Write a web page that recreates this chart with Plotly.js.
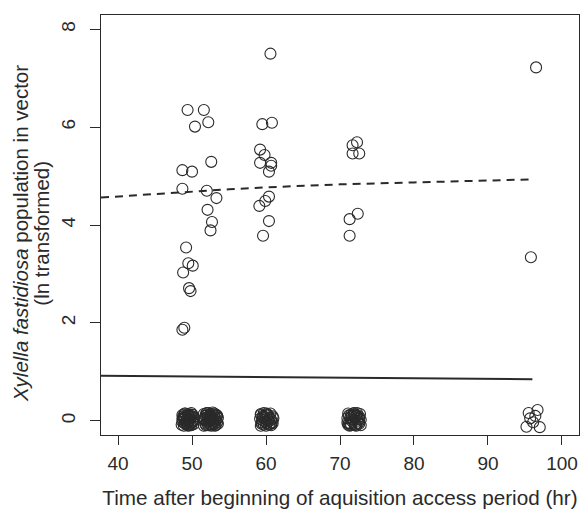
<!DOCTYPE html>
<html>
<head>
<meta charset="utf-8">
<script src="https://cdn.plot.ly/plotly-3.0.1.min.js"></script>
<style>html,body{margin:0;padding:0;background:#fff;}#plot{width:585px;height:512px;}</style>
</head>
<body>
<div id="plot"></div>
<script>
// Infected vectors (above zero)
const posTime = [49.4,51.6,50.4,52.2,60.6,59.5,60.8,59.2,59.8,59.2,60.7,60.7,60.4,48.7,50.0,52.6,48.7,52.0,53.3,52.1,60.4,59.9,59.1,52.7,52.5,60.4,59.6,49.2,49.5,50.1,48.8,49.6,49.8,48.96,48.7,96.5,95.8,71.7,72.3,71.7,72.6,72.4,71.3,71.3];
const posLn   = [6.35,6.35,6.01,6.10,7.50,6.06,6.09,5.54,5.43,5.27,5.27,5.21,5.09,5.12,5.09,5.29,4.74,4.70,4.55,4.31,4.58,4.49,4.39,4.06,3.89,4.08,3.78,3.54,3.22,3.17,3.03,2.71,2.65,1.90,1.86,7.22,3.34,5.63,5.69,5.46,5.46,4.23,4.12,3.78];

// Uninfected vectors (jittered around zero)
const zeroTime = [
  48.7,49.1,49.5,49.9,50.2,48.8,49.3,49.7,50.1,48.6,49.0,49.4,49.8,50.0,48.9,49.2,49.6,50.2,48.7,49.3,49.9,49.0,49.5,50.1,
  48.9,49.2,49.6,50.0,48.7,49.1,49.5,49.8,50.1,48.8,49.4,49.7,49.0,49.3,49.6,49.9,
  51.6,52.0,52.4,52.8,53.2,53.5,51.7,52.1,52.6,53.0,53.4,51.8,52.3,52.7,53.1,51.6,52.2,52.5,52.9,53.3,51.9,52.4,52.8,53.2,51.7,52.0,52.6,53.0,53.5,52.3,
  51.8,52.1,52.5,52.9,53.3,51.6,52.0,52.4,52.7,53.1,53.4,51.9,52.2,52.6,53.0,52.8,
  59.3,59.7,60.2,60.6,61.0,59.2,59.8,60.3,60.8,59.4,59.9,60.4,60.9,59.3,59.6,60.1,60.7,59.5,60.0,60.5,
  59.5,59.9,60.3,60.7,59.3,59.7,60.1,60.6,59.4,60.0,60.4,60.9,
  71.1,71.5,71.9,72.3,72.7,71.0,71.4,71.8,72.2,72.6,71.2,71.7,72.1,72.5,72.8,71.3,71.6,72.0,72.4,71.1,71.9,72.6,
  71.2,71.6,72.0,72.4,72.8,71.0,71.4,71.8,72.2,72.6,71.5,72.3,
  96.7,97.0,95.5,95.2,95.7,96.1,96.4
];
const zeroLn = [
  0.12,0.15,0.10,0.16,0.08,0.02,-0.04,0.05,-0.02,-0.08,0.07,-0.09,-0.06,0.13,-0.10,0.11,-0.01,-0.07,0.04,0.03,0.09,-0.05,-0.10,0.01,
  0.06,0.00,0.03,-0.03,-0.02,-0.06,0.14,0.10,0.12,0.09,0.07,-0.09,0.15,-0.07,0.12,-0.09,
  0.14,0.16,0.12,0.17,0.13,0.06,0.05,0.08,0.02,0.09,-0.03,-0.06,-0.02,-0.08,0.00,-0.10,-0.09,0.11,-0.05,0.10,0.15,0.04,0.06,-0.09,0.01,-0.04,-0.10,-0.07,-0.06,0.07,
  0.10,-0.01,0.00,0.03,0.02,0.03,0.12,-0.07,0.14,-0.10,0.11,-0.09,0.16,0.09,0.15,-0.02,
  0.14,0.16,0.12,0.15,0.05,0.04,0.08,0.02,-0.03,-0.06,-0.02,-0.08,0.09,-0.10,0.10,-0.05,-0.09,0.01,0.13,0.06,
  0.07,0.03,0.11,0.02,0.12,-0.08,0.15,-0.06,-0.03,-0.10,-0.01,-0.05,
  0.15,0.13,0.16,0.12,0.14,0.05,0.07,0.02,0.09,0.04,-0.05,-0.02,-0.07,-0.04,-0.09,-0.10,0.10,-0.09,0.00,-0.08,0.11,0.08,
  0.11,0.03,0.13,0.06,0.02,-0.04,-0.06,0.15,-0.10,-0.06,-0.09,0.16,
  0.22,-0.13,0.16,-0.12,0.05,-0.03,0.10
];

// Fitted curves
const fitTime = [37.7,45,50,55,60,70,80,90,95.5];
const fitPosLn = [4.56,4.63,4.69,4.73,4.77,4.83,4.87,4.91,4.93];
const fitAllTime = [37.7,96];
const fitAllLn = [0.92,0.85];

const xTicks = [40,50,60,70,80,90,100];
const yTicks = [0,2,4,6,8];
const xTitle = 'Time after beginning of aquisition access period (hr)';
const yTitleLine1 = '<i>Xylella fastidiosa</i> population in vector';
const yTitleLine2 = '(ln transformed)';

const ink = '#2a2a2a';
const marker = {symbol:'circle-open', size:11, color:ink, line:{width:1.1, color:ink}};

const traces = [
  {x: fitAllTime, y: fitAllLn, mode:'lines', line:{color:ink, width:2}, hoverinfo:'skip'},
  {x: fitTime, y: fitPosLn, mode:'lines', line:{color:ink, width:2, dash:'8px,6px'}, hoverinfo:'skip'},
  {x: zeroTime, y: zeroLn, mode:'markers', marker: marker},
  {x: posTime, y: posLn, mode:'markers', marker: marker}
];

const fam = '"Liberation Sans", Arial, Helvetica, sans-serif';
const titleFont = {size:20.5, family:fam, color:ink};

const layout = {
  width:585, height:512,
  margin:{l:101, r:6, t:15, b:77},
  showlegend:false,
  paper_bgcolor:'#fff', plot_bgcolor:'#fff',
  font:{family:fam, color:ink},
  xaxis:{
    range:[37.7,102.3], tickvals:xTicks, ticktext:xTicks.map(String),
    ticks:'outside', ticklen:9, tickwidth:1, tickcolor:ink,
    ticklabelstandoff:2,
    showline:true, linecolor:ink, linewidth:1, mirror:true,
    showgrid:false, zeroline:false,
    tickfont:{size:19, family:fam, color:ink},
    title:{text:xTitle, font:{size:20.7, family:fam, color:ink}, standoff:17}
  },
  yaxis:{
    range:[-0.29,8.29], tickvals:yTicks, ticktext:yTicks.map(String),
    ticks:'outside', ticklen:10, tickwidth:1, tickcolor:ink, tickangle:-90,
    ticklabelstandoff:7,
    showline:true, linecolor:ink, linewidth:1, mirror:true,
    showgrid:false, zeroline:false,
    tickfont:{size:19, family:fam, color:ink}
  },
  annotations:[
    {text:yTitleLine1, xref:'paper', yref:'paper', x:-0.168, y:0.48,
     xanchor:'center', yanchor:'middle', textangle:-90, showarrow:false, font:titleFont},
    {text:yTitleLine2, xref:'paper', yref:'paper', x:-0.125, y:0.48,
     xanchor:'center', yanchor:'middle', textangle:-90, showarrow:false, font:titleFont}
  ]
};

Plotly.newPlot('plot', traces, layout, {displayModeBar:false, staticPlot:true});
</script>
</body>
</html>
